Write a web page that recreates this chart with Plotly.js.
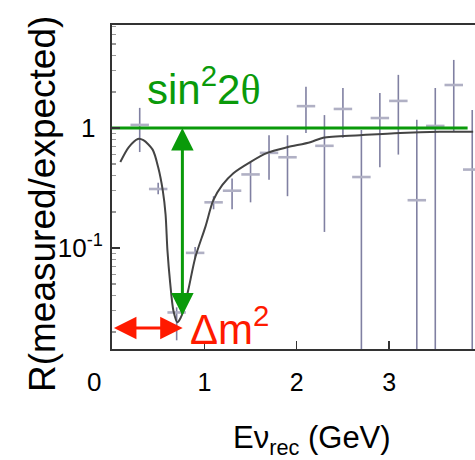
<!DOCTYPE html>
<html>
<head>
<meta charset="utf-8">
<script src="https://cdn.plot.ly/plotly-3.0.1.min.js"></script>
<style>html,body{margin:0;padding:0;background:#fff;}#chart{width:475px;height:460px;}</style>
</head>
<body>
<div id="chart"></div>
<script>
// ---- data ----
var binCenter = [0.3,0.5,0.7,0.9,1.1,1.3,1.5,1.7,1.9,2.1,2.3,2.5,2.7,2.9,3.1,3.3,3.5,3.7,3.9];
var ratio     = [1.06,0.31,0.029,0.091,0.24,0.30,0.41,0.62,0.57,1.52,0.71,1.44,0.39,1.21,1.68,0.25,1.04,2.28,0.45];
var ratioHigh = [1.47,0.35,0.032,0.102,0.27,0.38,0.52,0.87,0.87,2.2,1.28,2.15,0.96,1.96,2.77,1.17,2.15,3.69,1.41];
var ratioLow  = [0.63,0.28,0.017,0.081,0.21,0.21,0.24,0.37,0.27,0.91,0.136,0.83,0.005,0.47,0.60,0.005,0.005,0.93,0.005];
var binHalfWidth = [0.1,0.1,0.1,0.1,0.1,0.1,0.1,0.1,0.1,0.1,0.1,0.1,0.1,0.1,0.1,0.1,0.1,0.1,0.1];

var fitE = [0.09,0.18,0.28,0.34,0.44,0.50,0.55,0.58,0.60,0.63,0.665,0.708,0.741,0.773,0.827,0.903,1.011,1.097,1.195,1.314,1.497,1.681,1.897,2.146,2.286,2.686,3.119,3.551,3.91];
var fitR = [0.52,0.69,0.81,0.79,0.66,0.47,0.30,0.19,0.096,0.051,0.030,0.024,0.026,0.030,0.045,0.084,0.15,0.25,0.335,0.42,0.52,0.62,0.69,0.76,0.83,0.87,0.91,0.93,0.93];

var noOscE = [0, 3.85];
var noOscR = [1, 1];

var xTickVals = [1, 2, 3];
var xTickText = ['1', '2', '3'];
var yTickVals = [0.1, 1];
var yTickText = ['10<sup>-1</sup>', '1\u00A0'];
var xTitle = 'Eν<sub>rec</sub> (GeV)';
var yTitle = 'R(measured/expected)';

var FONT = 'Liberation Sans, Arial, sans-serif';
var GREEN = '#0a9a0a';
var RED = '#ff1a00';

var plusErr = ratio.map(function(v,i){return ratioHigh[i]-v;});
var minusErr = ratio.map(function(v,i){return v-ratioLow[i];});

var traces = [
  {
    x: binCenter, y: ratio, type: 'scatter', mode: 'markers',
    marker: {size: 1, color: 'rgba(0,0,0,0)'},
    error_y: {type: 'data', symmetric: false, array: plusErr, arrayminus: minusErr,
              color: '#8080a2', thickness: 1.6, width: 0},
    error_x: {type: 'data', array: binHalfWidth, color: '#b0b0c4', thickness: 2.6, width: 0},
    hoverinfo: 'skip', showlegend: false
  },
  {
    x: fitE, y: fitR, type: 'scatter', mode: 'lines',
    line: {color: '#444444', width: 2, shape: 'spline', smoothing: 0.8},
    showlegend: false
  },
  {
    x: noOscE, y: noOscR, type: 'scatter', mode: 'lines',
    line: {color: GREEN, width: 3}, showlegend: false
  }
];

// pixel helpers for overlay text (plot area: l=112, t=25, w=363, h=324)
function px(xp){ return (xp-112)/363; }
function py(yp){ return (349-yp)/324; }

var layout = {
  width: 475, height: 460,
  margin: {l: 112, r: 0, t: 25, b: 111},
  paper_bgcolor: '#fff', plot_bgcolor: '#fff',
  font: {family: FONT, color: '#000'},
  showlegend: false,
  xaxis: {
    range: [0, 3.93], tickmode: 'array', tickvals: xTickVals, ticktext: xTickText,
    ticks: 'inside', ticklen: 8, tickwidth: 1.5, tickcolor: '#333',
    showline: true, linecolor: '#333', linewidth: 2, mirror: true,
    showgrid: false, zeroline: false,
    tickfont: {size: 25, family: FONT}, ticklabelstandoff: 10
  },
  yaxis: {
    type: 'log', range: [-1.842, 0.858], tickmode: 'array', tickvals: yTickVals, ticktext: yTickText,
    ticks: 'inside', ticklen: 8, tickwidth: 1.5, tickcolor: '#333',
    minor: {ticks: 'inside', ticklen: 4, tickcolor: '#999', dtick: 'D1'},
    showline: true, linecolor: '#333', linewidth: 2,
    showgrid: false, zeroline: false,
    tickfont: {size: 26, family: FONT}, ticklabelstandoff: 2
  },
  annotations: [
    {xref: 'paper', yref: 'paper', x: px(312), y: py(440), xanchor: 'center', yanchor: 'middle',
     text: xTitle, showarrow: false, font: {size: 31, color: '#000', family: FONT}},
    {xref: 'paper', yref: 'paper', x: px(42), y: py(204), xanchor: 'center', yanchor: 'middle',
     text: yTitle, textangle: -90, showarrow: false, font: {size: 37, color: '#000', family: FONT}},
    {xref: 'paper', yref: 'paper', x: px(204), y: py(86), xanchor: 'center', yanchor: 'middle',
     text: 'sin<sup>2</sup>2<span style="font-family:Liberation Serif">θ</span>',
     showarrow: false, font: {size: 42, color: GREEN, family: FONT}},
    {xref: 'paper', yref: 'paper', x: px(229), y: py(326), xanchor: 'center', yanchor: 'middle',
     text: 'Δm<sup>2</sup>',
     showarrow: false, font: {size: 42, color: RED, family: FONT}},
    {xref: 'paper', yref: 'paper', x: px(94), y: py(382), xanchor: 'center', yanchor: 'middle',
     text: '0', showarrow: false, font: {size: 26, color: '#000', family: FONT}},
    {xref: 'x', yref: 'y', axref: 'x', ayref: 'y', x: 0.762, y: 0, ax: 0.762, ay: -1.575,
     text: '', showarrow: true, arrowside: 'end+start', arrowhead: 2, startarrowhead: 2,
     arrowsize: 1.5, startarrowsize: 1.5, arrowwidth: 3, arrowcolor: GREEN, standoff: 0, startstandoff: 0},
    {xref: 'x', yref: 'y', axref: 'x', ayref: 'y', x: 0.765, y: -1.667, ax: 0.005, ay: -1.667,
     text: '', showarrow: true, arrowside: 'end+start', arrowhead: 2, startarrowhead: 2,
     arrowsize: 1.5, startarrowsize: 1.5, arrowwidth: 3, arrowcolor: RED, standoff: 0, startstandoff: 0}
  ]
};

Plotly.newPlot('chart', traces, layout, {displayModeBar: false, staticPlot: true});
</script>
</body>
</html>
